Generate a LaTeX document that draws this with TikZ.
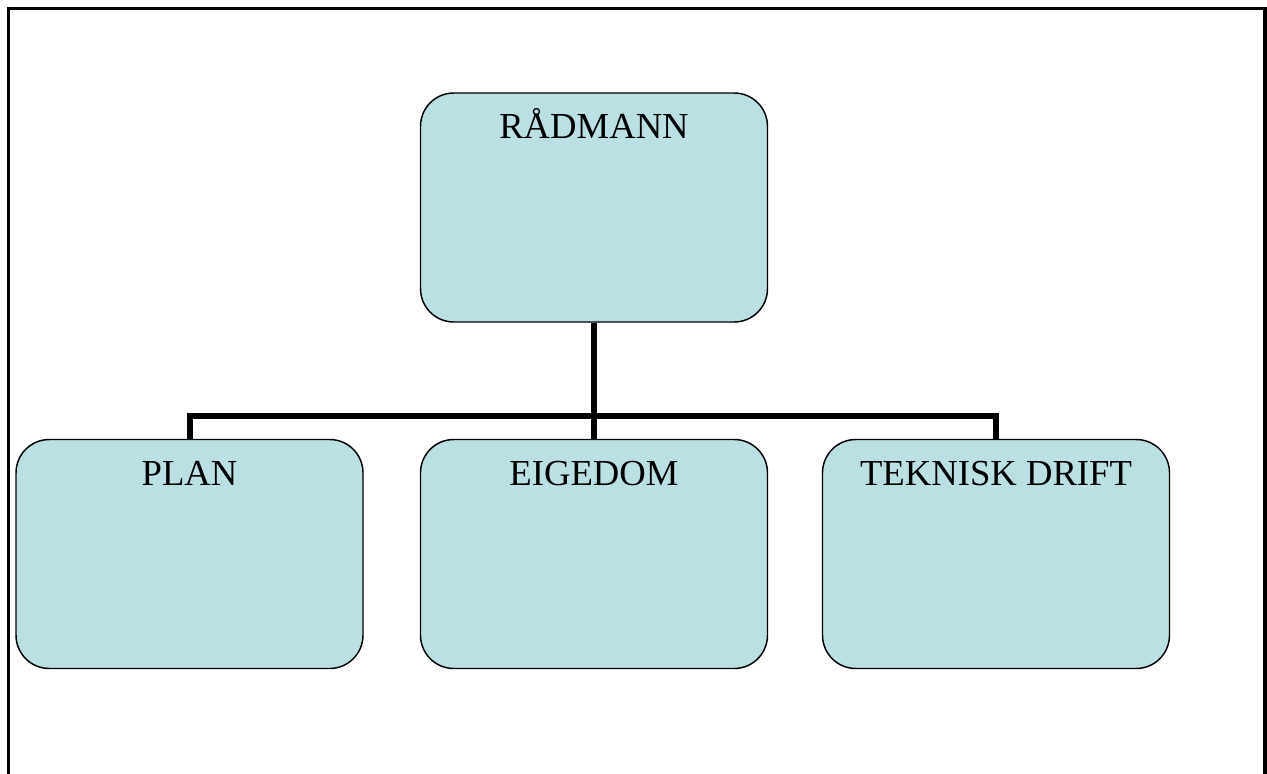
\documentclass[tikz,border=0pt]{standalone}
\usepackage{fontspec}
\setmainfont{Liberation Serif}
\usetikzlibrary{backgrounds}
\definecolor{boxfill}{RGB}{187,224,227}
\begin{document}
\begin{tikzpicture}[x=0.75pt,y=-0.75pt,
  orgbox/.style={draw=black, line width=1.1pt, fill=boxfill, rounded corners=25pt,
    minimum width=347*0.75pt, minimum height=229*0.75pt, inner sep=0pt},
  orgtext/.style={anchor=base, inner sep=0pt, font=\fontsize{27.5}{33}\selectfont},
  conn/.style={line width=4.5pt, line join=miter, draw=black},
  frame/.style={line width=2.8pt, draw=black}]
\useasboundingbox (0,0) rectangle (1267,774);
\coordinate (fbl) at (8.5,774);
\coordinate (ftl) at (8.5,8.5);
\coordinate (ftr) at (1265,8.5);
\coordinate (fbr) at (1265,774);
\draw[frame] (fbl) -- (ftl) -- (ftr) -- (fbr);
\node[orgbox] (r) at (594,207.5) {};
\node[orgbox] (p) at (189.5,554) {};
\node[orgbox] (e) at (594,554) {};
\node[orgbox] (t) at (996,554) {};
\coordinate (j) at (594,416);
\begin{scope}[on background layer]
\draw[conn] (r.south) -- (r.south |- j);
\draw[conn] (p.north) -- (p.north |- j) -- (t.north |- j) -- (t.north);
\draw[conn] (e.north) -- (e.north |- j);
\end{scope}
\node[orgtext] (rt) at ([yshift=-46*0.75pt]r.north) {RÅDMANN};
\node[orgtext] (pt) at ([yshift=-47*0.75pt]p.north) {PLAN};
\node[orgtext] (et) at ([yshift=-47*0.75pt]e.north) {EIGEDOM};
\node[orgtext] (tt) at ([yshift=-47*0.75pt]t.north) {TEKNISK DRIFT};
\end{tikzpicture}
\end{document}
